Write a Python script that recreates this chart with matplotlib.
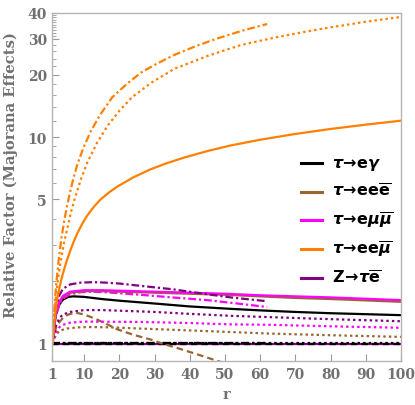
import matplotlib
matplotlib.use("Agg")
import matplotlib.pyplot as plt
from matplotlib.ticker import FixedLocator, NullFormatter

# colours (Mathematica-like named colours)
BLACK = "#000000"
BROWN = "#996633"
MAGENTA = "#ff00ff"
ORANGE = "#ff8000"
PURPLE = "#800080"
GRAY = "#707070"

# ---- data ----
# orange: tau -> e e mubar
r_or_solid = [1, 1.4, 1.8, 2.3, 3, 3.6, 4.2, 5, 6.1, 7, 8, 9.5, 10.9, 12.7, 14.6, 17, 19.4,
              24, 28.8, 33.5, 38.3, 45, 51.6, 60, 70, 80, 90, 100]
v_or_solid = [1, 1.21, 1.40, 1.62, 1.87, 2.07, 2.25, 2.50, 2.83, 3.10, 3.40, 3.81, 4.17, 4.58, 4.97, 5.38, 5.75,
              6.38, 6.97, 7.47, 7.94, 8.55, 9.10, 9.70, 10.35, 10.94, 11.48, 12.0]
r_or_dot = [1, 1.4, 1.85, 2.5, 3.3, 4.2, 5.2, 6.3, 7.5, 9, 10.9, 13.5, 16.5, 20, 23.6, 29, 35.6,
            45, 54.5, 64, 72, 80, 90, 100]
v_or_dot = [1, 1.29, 1.60, 2.01, 2.48, 3.03, 3.61, 4.35, 5.15, 6.19, 7.53, 9.27, 11.25, 13.4, 15.6, 18.3, 21.4,
            24.7, 27.9, 30.3, 32.2, 34.0, 36.2, 38.2]
r_or_dashdot = [1, 1.3, 1.6, 2.1, 2.8, 3.6, 4.5, 5.6, 6.7, 8, 9.8, 11.8, 14.5, 18, 22, 26.1, 30.5,
                35.6, 42, 48, 55, 62]
v_or_dashdot = [1, 1.27, 1.54, 1.98, 2.58, 3.29, 4.08, 5.05, 6.08, 7.31, 8.89, 10.6, 12.8, 15.6, 18.0, 20.5, 22.6,
                25.0, 27.7, 30.1, 32.8, 35.3]

# magenta: tau -> e mu mubar
r_mg_solid = [1, 1.5, 2, 3, 4, 6, 10, 15, 20, 30, 40, 50, 60, 70, 80, 90, 100]
v_mg_solid = [1, 1.25, 1.42, 1.6, 1.7, 1.78, 1.81, 1.81, 1.80, 1.78, 1.76, 1.74, 1.71, 1.69, 1.67, 1.645, 1.62]
r_mg_dot = [1, 1.5, 2, 3, 4, 6, 10, 26, 40, 51.6, 63, 80, 100]
v_mg_dot = [1, 1.07, 1.13, 1.2, 1.23, 1.26, 1.275, 1.27, 1.255, 1.236, 1.23, 1.21, 1.19]
r_mg_dashdot = [1, 1.5, 2, 3, 4, 6, 9, 12, 16, 20, 26, 35, 45, 55, 62]
v_mg_dashdot = [1, 1.22, 1.38, 1.55, 1.65, 1.73, 1.77, 1.78, 1.77, 1.75, 1.72, 1.67, 1.62, 1.55, 1.50]
r_mg_dash = [1, 100]
v_mg_dash = [0.99, 0.99]

# brown: tau -> e e ebar
r_br_solid = [1, 1.5, 2, 3, 4, 6, 10, 15, 20, 30, 40, 50, 60, 70, 80, 90, 100]
v_br_solid = [1, 1.24, 1.41, 1.59, 1.68, 1.76, 1.79, 1.79, 1.78, 1.76, 1.74, 1.72, 1.69, 1.66, 1.64, 1.615, 1.59]
r_br_dot = [1, 2, 3, 5, 8, 12, 18, 26, 40, 51.6, 63, 80, 100]
v_br_dot = [1, 1.1, 1.15, 1.18, 1.195, 1.2, 1.195, 1.18, 1.155, 1.135, 1.115, 1.095, 1.075]
r_br_dash = [1, 1.5, 2, 3, 4, 5.5, 7.5, 10, 13, 16, 19.4, 24, 28.8, 32, 36.4, 43, 50]
v_br_dash = [1, 1.12, 1.19, 1.27, 1.33, 1.38, 1.41, 1.38, 1.32, 1.25, 1.17, 1.10, 1.045, 1.0, 0.95, 0.875, 0.80]

# black: tau -> e gamma
r_bk_solid = [1, 1.5, 2, 3, 4, 5.5, 7, 10, 15, 20, 30, 40, 51.6, 60, 70, 80, 90, 100]
v_bk_solid = [1, 1.22, 1.38, 1.55, 1.63, 1.68, 1.69, 1.68, 1.64, 1.61, 1.56, 1.51, 1.47, 1.445, 1.42, 1.40, 1.385, 1.37]
r_bk_dot = [1, 100]
v_bk_dot = [1.0, 1.0]
r_bk_dash = [1, 100]
v_bk_dash = [0.995, 0.995]
r_bk_dashdot = [1, 62]
v_bk_dashdot = [1.0, 1.0]

# purple: Z -> tau ebar
r_pu_solid = [1, 100]
v_pu_solid = [0.99, 0.99]
r_pu_dot = [1, 1.5, 2, 3, 4, 6, 10, 15, 20, 30, 40, 51.6, 60, 80, 100]
v_pu_dot = [1, 1.12, 1.22, 1.33, 1.38, 1.42, 1.45, 1.45, 1.44, 1.42, 1.39, 1.36, 1.345, 1.31, 1.28]
r_pu_dashdot = [1, 1.5, 2, 3, 4, 6, 9, 12.7, 16, 20, 26, 35, 45, 51.6, 62]
v_pu_dashdot = [1, 1.3, 1.5, 1.72, 1.84, 1.93, 1.97, 1.98, 1.97, 1.95, 1.90, 1.83, 1.73, 1.67, 1.60]

labels = [r"$\tau\!\rightarrow\!\mathrm{e}\gamma$",
          r"$\tau\!\rightarrow\!\mathrm{ee}\overline{\mathrm{e}}$",
          r"$\tau\!\rightarrow\!\mathrm{e}\mu\overline{\mu}$",
          r"$\tau\!\rightarrow\!\mathrm{ee}\overline{\mu}$",
          r"$\mathrm{Z}\!\rightarrow\!\tau\overline{\mathrm{e}}$"]
label_colors = [BLACK, BROWN, MAGENTA, ORANGE, PURPLE]

y_major = [1, 5, 10, 20, 30, 40]
y_minor = [2, 3, 4, 6, 7, 8, 9, 12, 14, 16, 18, 22, 24, 26, 28,
           31, 32, 33, 34, 35, 36, 37, 38, 39]
x_major = [1, 10, 20, 30, 40, 50, 60, 70, 80, 90, 100]

plt.rcParams["mathtext.fontset"] = "custom"
plt.rcParams["mathtext.rm"] = "DejaVu Sans:bold"
plt.rcParams["mathtext.it"] = "DejaVu Sans:italic:bold"
plt.rcParams["mathtext.bf"] = "DejaVu Sans:bold"

DOT = (0, (1.1, 1.4))
DASH = (0, (3.0, 1.8))
DASHDOT = (0, (3.5, 1.3, 1.0, 1.3))
LW = 1.6

fig = plt.figure(figsize=(4.15, 4.06), dpi=100)
ax = fig.add_axes([0.1265, 0.108, 0.8395, 0.858])

ax.plot(r_pu_solid, v_pu_solid, color=PURPLE, lw=LW)
ax.plot(r_mg_dash, v_mg_dash, color=MAGENTA, lw=LW, ls=DASH)
ax.plot(r_bk_dash, v_bk_dash, color=BLACK, lw=LW, ls=DASH)
ax.plot(r_bk_dot, v_bk_dot, color=BLACK, lw=LW, ls=DOT)
ax.plot(r_bk_dashdot, v_bk_dashdot, color=BLACK, lw=LW, ls=DASHDOT)

ax.plot(r_br_dot, v_br_dot, color=BROWN, lw=LW, ls=DOT)
ax.plot(r_br_dash, v_br_dash, color=BROWN, lw=LW, ls=DASH)
ax.plot(r_mg_dot, v_mg_dot, color=MAGENTA, lw=LW, ls=DOT)
ax.plot(r_pu_dot, v_pu_dot, color=PURPLE, lw=LW, ls=DOT)
ax.plot(r_bk_solid, v_bk_solid, color=BLACK, lw=LW)
ax.plot(r_mg_dashdot, v_mg_dashdot, color=MAGENTA, lw=LW, ls=DASHDOT)
ax.plot(r_br_solid, v_br_solid, color=BROWN, lw=LW)
ax.plot(r_mg_solid, v_mg_solid, color=MAGENTA, lw=LW)
ax.plot(r_pu_dashdot, v_pu_dashdot, color=PURPLE, lw=LW, ls=DASHDOT)

ax.plot(r_or_solid, v_or_solid, color=ORANGE, lw=LW)
ax.plot(r_or_dot, v_or_dot, color=ORANGE, lw=LW, ls=DOT)
ax.plot(r_or_dashdot, v_or_dashdot, color=ORANGE, lw=LW, ls=DASHDOT)

ax.set_yscale("log")
ax.set_xlim(1, 100)
ax.set_ylim(0.82, 40)

ax.yaxis.set_major_locator(FixedLocator(y_major))
ax.yaxis.set_minor_locator(FixedLocator(y_minor))
ax.set_yticklabels([str(v) for v in y_major])
ax.yaxis.set_minor_formatter(NullFormatter())
ax.xaxis.set_major_locator(FixedLocator(x_major))
ax.set_xticklabels([str(v) for v in x_major])

for s in ax.spines.values():
    s.set_color("#b4b4b4")
    s.set_linewidth(1.0)
ax.tick_params(which="both", direction="in", color="#9a9a9a", labelcolor=GRAY,
               labelsize=10, top=False, right=False)
ax.tick_params(which="major", length=5, width=0.8, pad=4)
ax.tick_params(which="minor", length=3, width=0.6)
for t in ax.get_xticklabels() + ax.get_yticklabels():
    t.set_family("DejaVu Serif")
    t.set_weight("bold")

ax.set_xlabel("r", family="DejaVu Serif", weight="bold", color=GRAY, fontsize=10.5)
ax.xaxis.set_label_coords(0.5, -0.075)
ax.set_ylabel("Relative Factor (Majorana Effects)", family="DejaVu Serif",
              weight="bold", color=GRAY, fontsize=10.6)
ax.yaxis.set_label_coords(-0.098, 0.537)

# legend drawn by hand so the rows are evenly spaced (axes fractions)
leg_x0, leg_x1, leg_tx = 0.713, 0.773, 0.802
leg_y0, leg_dy = 0.569, 0.0826
for i, (lab, c) in enumerate(zip(labels, label_colors)):
    y = leg_y0 - i * leg_dy
    ax.plot([leg_x0, leg_x1], [y, y], color=c, lw=2.2,
            transform=ax.transAxes, clip_on=False)
    ax.text(leg_tx, y - 0.013, lab, transform=ax.transAxes, fontsize=11.5,
            va="baseline", ha="left", color="black")

fig.savefig("out.png", dpi=100)
